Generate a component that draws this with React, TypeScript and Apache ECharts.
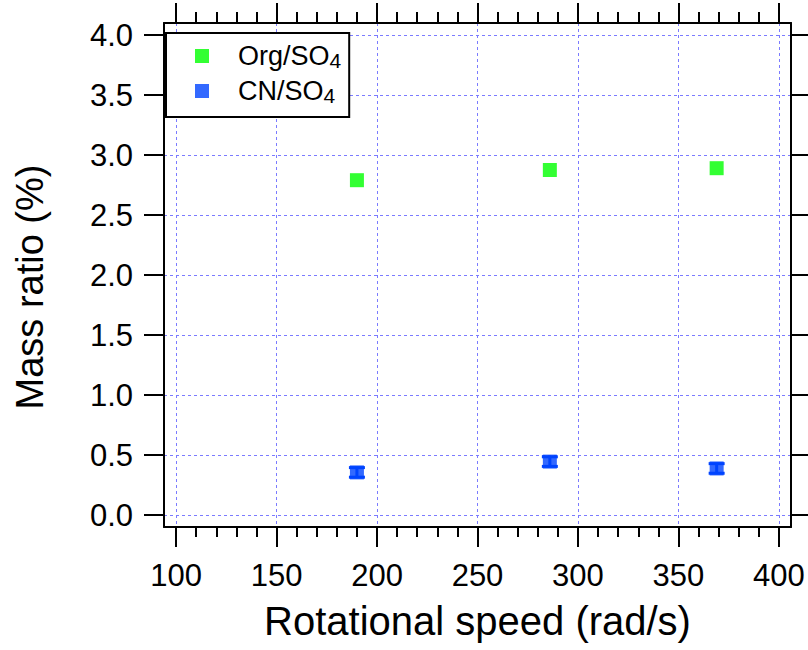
import React, { useEffect, useRef } from "react";
import * as echarts from "echarts";

// ---- data ----
const speeds = [190, 286, 369];
const orgRatio = [2.79, 2.875, 2.89];
const cnRatio = [0.355, 0.445, 0.388];
const cnErr = [0.04, 0.04, 0.04];

// ---- ticks ----
const xMajor = [100, 150, 200, 250, 300, 350, 400];
const xMinor = [
  110, 120, 130, 140, 160, 170, 180, 190, 210, 220, 230, 240, 260, 270, 280, 290,
  310, 320, 330, 340, 360, 370, 380, 390,
];
const yMajor = [0, 0.5, 1.0, 1.5, 2.0, 2.5, 3.0, 3.5, 4.0];

const FONT = '"Liberation Sans", Arial, sans-serif';
const GREEN = "#00ff00";
const BLUE = "#0044ff";
const GRID_COLOR = "#7b7bff";

export default function App() {
  const ref = useRef<HTMLDivElement | null>(null);

  useEffect(() => {
    document.body.style.margin = "0";
    if (!ref.current) return;
    const chart = echarts.init(ref.current, undefined, { renderer: "svg" });

    const xRange = { min: 94, max: 406 };
    const yRange = { min: -0.1, max: 4.1 };
    const black = { color: "#000", width: 2 };

    const option: any = {
      animation: false,
      backgroundColor: "#fff",
      grid: {
        left: 164,
        right: 17,
        top: 23,
        bottom: 123,
        containLabel: false,
        outerBoundsMode: "none",
      },
      legend: {
        data: ["Org/SO4", "CN/SO4"],
        orient: "vertical",
        left: 166,
        top: 33,
        padding: [8, 8, 11, 29],
        itemGap: 5,
        itemWidth: 14,
        itemHeight: 14,
        icon: "rect",
        borderColor: "#000",
        borderWidth: 2,
        backgroundColor: "#fff",
        formatter: (name: string) => "{g| }" + name.replace("SO4", "SO{sub|4}"),
        textStyle: {
          fontFamily: FONT,
          fontSize: 27,
          color: "#000",
          lineHeight: 30,
          rich: {
            g: { width: 24, fontSize: 27, lineHeight: 30 },
            sub: {
              fontFamily: FONT,
              fontSize: 21,
              color: "#000",
              lineHeight: 12,
              verticalAlign: "bottom",
            },
          },
        },
      },
      xAxis: [
        {
          type: "value",
          position: "bottom",
          ...xRange,
          name: "Rotational speed (rad/s)",
          nameLocation: "middle",
          nameGap: 74,
          nameTextStyle: { fontFamily: FONT, fontSize: 40, color: "#000" },
          axisLine: { show: true, onZero: false, lineStyle: black },
          axisTick: { show: true, inside: false, length: 20, customValues: xMajor, lineStyle: black },
          axisLabel: {
            show: true,
            customValues: xMajor,
            margin: 33,
            fontFamily: FONT,
            fontSize: 31,
            color: "#000",
          },
          splitLine: { show: true, lineStyle: { color: GRID_COLOR, width: 1, type: [3, 3] } },
        },
        {
          type: "value",
          position: "top",
          ...xRange,
          axisLine: { show: true, onZero: false, lineStyle: black },
          axisTick: { show: true, inside: false, length: 20, customValues: xMajor, lineStyle: black },
          axisLabel: { show: false },
          splitLine: { show: false },
        },
        {
          type: "value",
          position: "bottom",
          ...xRange,
          axisLine: { show: false, onZero: false },
          axisTick: { show: true, inside: false, length: 10, customValues: xMinor, lineStyle: black },
          axisLabel: { show: false },
          splitLine: { show: false },
        },
        {
          type: "value",
          position: "top",
          ...xRange,
          axisLine: { show: false, onZero: false },
          axisTick: { show: true, inside: false, length: 11, customValues: xMinor, lineStyle: black },
          axisLabel: { show: false },
          splitLine: { show: false },
        },
      ],
      yAxis: [
        {
          type: "value",
          position: "left",
          ...yRange,
          axisLine: { show: true, onZero: false, lineStyle: black },
          axisTick: { show: true, inside: false, length: 20, customValues: yMajor, lineStyle: black },
          axisLabel: {
            show: true,
            customValues: yMajor,
            margin: 31,
            fontFamily: FONT,
            fontSize: 31,
            color: "#000",
            formatter: (v: number) => v.toFixed(1),
          },
          splitLine: { show: true, lineStyle: { color: GRID_COLOR, width: 1, type: [3, 3] } },
        },
        {
          type: "value",
          position: "right",
          ...yRange,
          axisLine: { show: true, onZero: false, lineStyle: black },
          axisTick: { show: true, inside: false, length: 20, customValues: yMajor, lineStyle: black },
          axisLabel: { show: false },
          splitLine: { show: false },
        },
      ],
      graphic: [
        {
          type: "text",
          x: 30,
          y: 287,
          rotation: Math.PI / 2,
          style: {
            text: "Mass ratio (%)",
            fontFamily: FONT,
            fontSize: 38,
            fill: "#000",
            textAlign: "center",
            textVerticalAlign: "middle",
            verticalAlign: "middle",
          },
        },
      ],
      series: [
        {
          name: "Org/SO4",
          type: "scatter",
          xAxisIndex: 0,
          yAxisIndex: 0,
          symbol: "rect",
          symbolSize: 14,
          itemStyle: { color: GREEN },
          data: speeds.map((s, i) => [s, orgRatio[i]]),
          z: 3,
        },
        {
          name: "CN/SO4",
          type: "scatter",
          xAxisIndex: 0,
          yAxisIndex: 0,
          symbol: "rect",
          symbolSize: 14,
          itemStyle: { color: BLUE },
          data: speeds.map((s, i) => [s, cnRatio[i]]),
          z: 3,
        },
        {
          name: "CN error",
          type: "custom",
          xAxisIndex: 0,
          yAxisIndex: 0,
          z: 4,
          data: speeds.map((s, i) => [s, cnRatio[i] - cnErr[i], cnRatio[i] + cnErr[i]]),
          renderItem: (params: any, api: any) => {
            const x = api.value(0);
            const lo = api.coord([x, api.value(1)]);
            const hi = api.coord([x, api.value(2)]);
            const hw = 8;
            const style = { stroke: BLUE, lineWidth: 3 };
            return {
              type: "group",
              children: [
                { type: "line", shape: { x1: lo[0], y1: lo[1], x2: hi[0], y2: hi[1] }, style },
                { type: "line", shape: { x1: lo[0] - hw, y1: lo[1], x2: lo[0] + hw, y2: lo[1] }, style },
                { type: "line", shape: { x1: hi[0] - hw, y1: hi[1], x2: hi[0] + hw, y2: hi[1] }, style },
              ],
            };
          },
        },
      ],
    };

    chart.setOption(option);
    return () => chart.dispose();
  }, []);

  return <div ref={ref} style={{ width: 808, height: 650 }} />;
}
